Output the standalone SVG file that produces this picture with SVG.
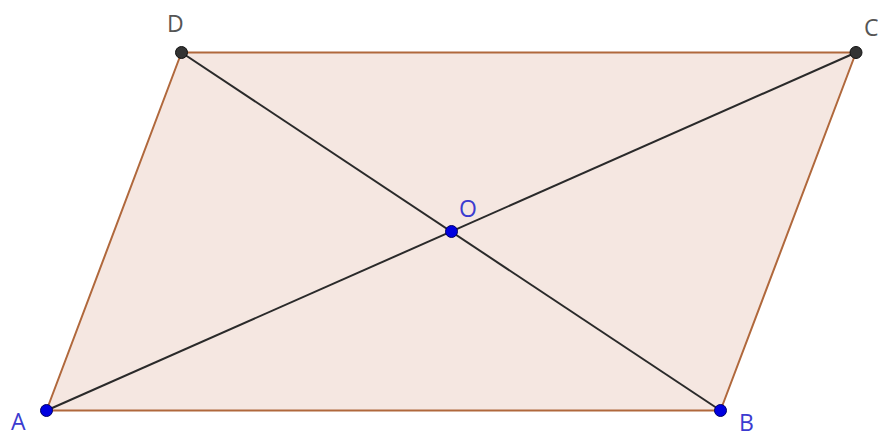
<svg xmlns="http://www.w3.org/2000/svg" width="878" height="437" viewBox="0 0 878 437">
<style>
.edge{fill:#f5e7e1;stroke:#b0683c;stroke-width:2;stroke-linejoin:round}
.diag{stroke:#2a2a2a;stroke-width:2}
.pb{fill:#0000e0;stroke:#000066;stroke-width:1}
.pk{fill:#333;stroke:#111;stroke-width:1}
.lb{font-family:"Open Sans","DejaVu Sans",sans-serif;font-size:23px;fill:#3b3bd0}
.lk{font-family:"Open Sans","DejaVu Sans",sans-serif;font-size:23px;fill:#555}
</style>
<rect width="878" height="437" fill="#fff"/>
<g id="shape"><polygon class="edge" points="46.5,410.5 720.5,410.5 856,52.5 181.5,52.5"/></g>
<g id="connectors">
<line class="diag" x1="46.5" y1="410.5" x2="856" y2="52.5"/>
<line class="diag" x1="181.5" y1="52.5" x2="720.5" y2="410.5"/>
</g>
<g id="A"><circle class="pb" cx="46.5" cy="410.5" r="6"/><text class="lb" x="11" y="430">A</text></g>
<g id="B"><circle class="pb" cx="720.5" cy="410.5" r="6"/><text class="lb" x="739" y="431">B</text></g>
<g id="C"><circle class="pk" cx="856" cy="52.5" r="6"/><text class="lk" x="864" y="36">C</text></g>
<g id="D"><circle class="pk" cx="181.5" cy="52.5" r="6"/><text class="lk" x="167" y="32">D</text></g>
<g id="O"><circle class="pb" cx="451.5" cy="231.5" r="6"/><text class="lb" x="459" y="217">O</text></g>
</svg>
